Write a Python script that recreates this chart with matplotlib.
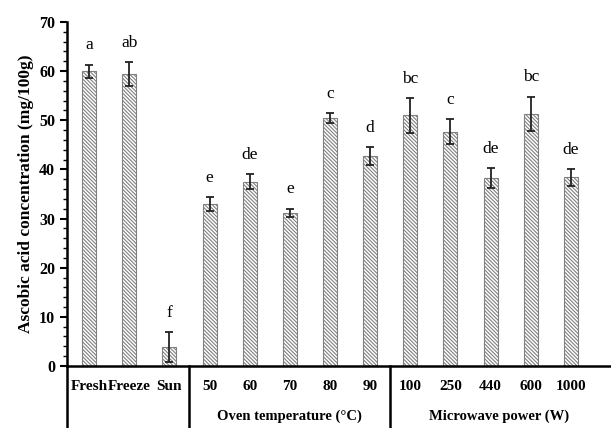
import matplotlib.pyplot as plt
import matplotlib.transforms as mtransforms
from matplotlib.ticker import MultipleLocator
import numpy as np

# data
categories = ["Fresh", "Freeze", "Sun", "50", "60", "70", "80", "90",
              "100", "250", "440", "600", "1000"]
ascorbic = [60.0, 59.4, 3.9, 33.0, 37.5, 31.2, 50.5, 42.8,
            51.0, 47.7, 38.2, 51.3, 38.4]
err = [1.3, 2.4, 3.0, 1.4, 1.5, 0.8, 1.0, 1.8,
       3.5, 2.5, 2.0, 3.5, 1.7]
letters = ["a", "ab", "f", "e", "de", "e", "c", "d", "bc", "c", "de", "bc", "de"]
groups = ["Oven temperature (\u00b0C)", "Microwave power (W)"]
group_spans = [(2.5, 7.5), (7.5, 12.9)]

plt.rcParams['font.family'] = ['Liberation Serif', 'DejaVu Serif']
plt.rcParams['hatch.color'] = '#7a7a7a'
plt.rcParams['hatch.linewidth'] = 0.8

fig = plt.figure(figsize=(6.11, 4.28), dpi=100)
ax = fig.add_axes([0.1097, 0.1449, 0.8903, 0.8037])

x = np.arange(len(categories))
ax.bar(x, ascorbic, width=0.35, color='white', edgecolor='#808080',
       linewidth=0.8, hatch='\\' * 9)
ax.errorbar(x, ascorbic, yerr=err, fmt='none', ecolor='#222222',
            elinewidth=1.3, capsize=3, capthick=1.3)

for xi, v, e, lab in zip(x, ascorbic, err, letters):
    ax.text(xi, v + e + 2.3, lab, ha='center', va='bottom', fontsize=12.5)

ax.set_xlim(-0.55, 13.0)
ax.set_ylim(0, 70)
ax.yaxis.set_major_locator(MultipleLocator(10))
ax.yaxis.set_minor_locator(MultipleLocator(2))
ax.tick_params(axis='y', which='major', length=5, width=1.5, labelsize=11.5)
ax.tick_params(axis='y', which='minor', length=3, width=1)
ax.tick_params(axis='x', length=0, labelsize=11, pad=10)
ax.set_xticks(x)
ax.set_xticklabels(categories, fontweight='bold')
for t in ax.get_yticklabels():
    t.set_fontweight('bold')
ax.spines['top'].set_visible(False)
ax.spines['right'].set_visible(False)
ax.spines['left'].set_linewidth(1.8)
ax.spines['bottom'].set_linewidth(1.8)
ax.set_ylabel("Ascobic acid concentration (mg/100g)", fontweight='bold',
              fontsize=12.5, labelpad=4)

# table lines below the axis
trans = mtransforms.blended_transform_factory(ax.transData, ax.transAxes)
bottom = -0.1449 / 0.8037
for xs in [-0.55, 2.5, 7.5]:
    ax.plot([xs, xs], [0, bottom], color='black', lw=1.8, transform=trans,
            clip_on=False)
for name, (a, b) in zip(groups, group_spans):
    ax.text((a + b) / 2, -0.147, name, transform=trans, ha='center',
            va='center', fontsize=10.5, fontweight='bold')

fig.savefig("out.png", dpi=100)
